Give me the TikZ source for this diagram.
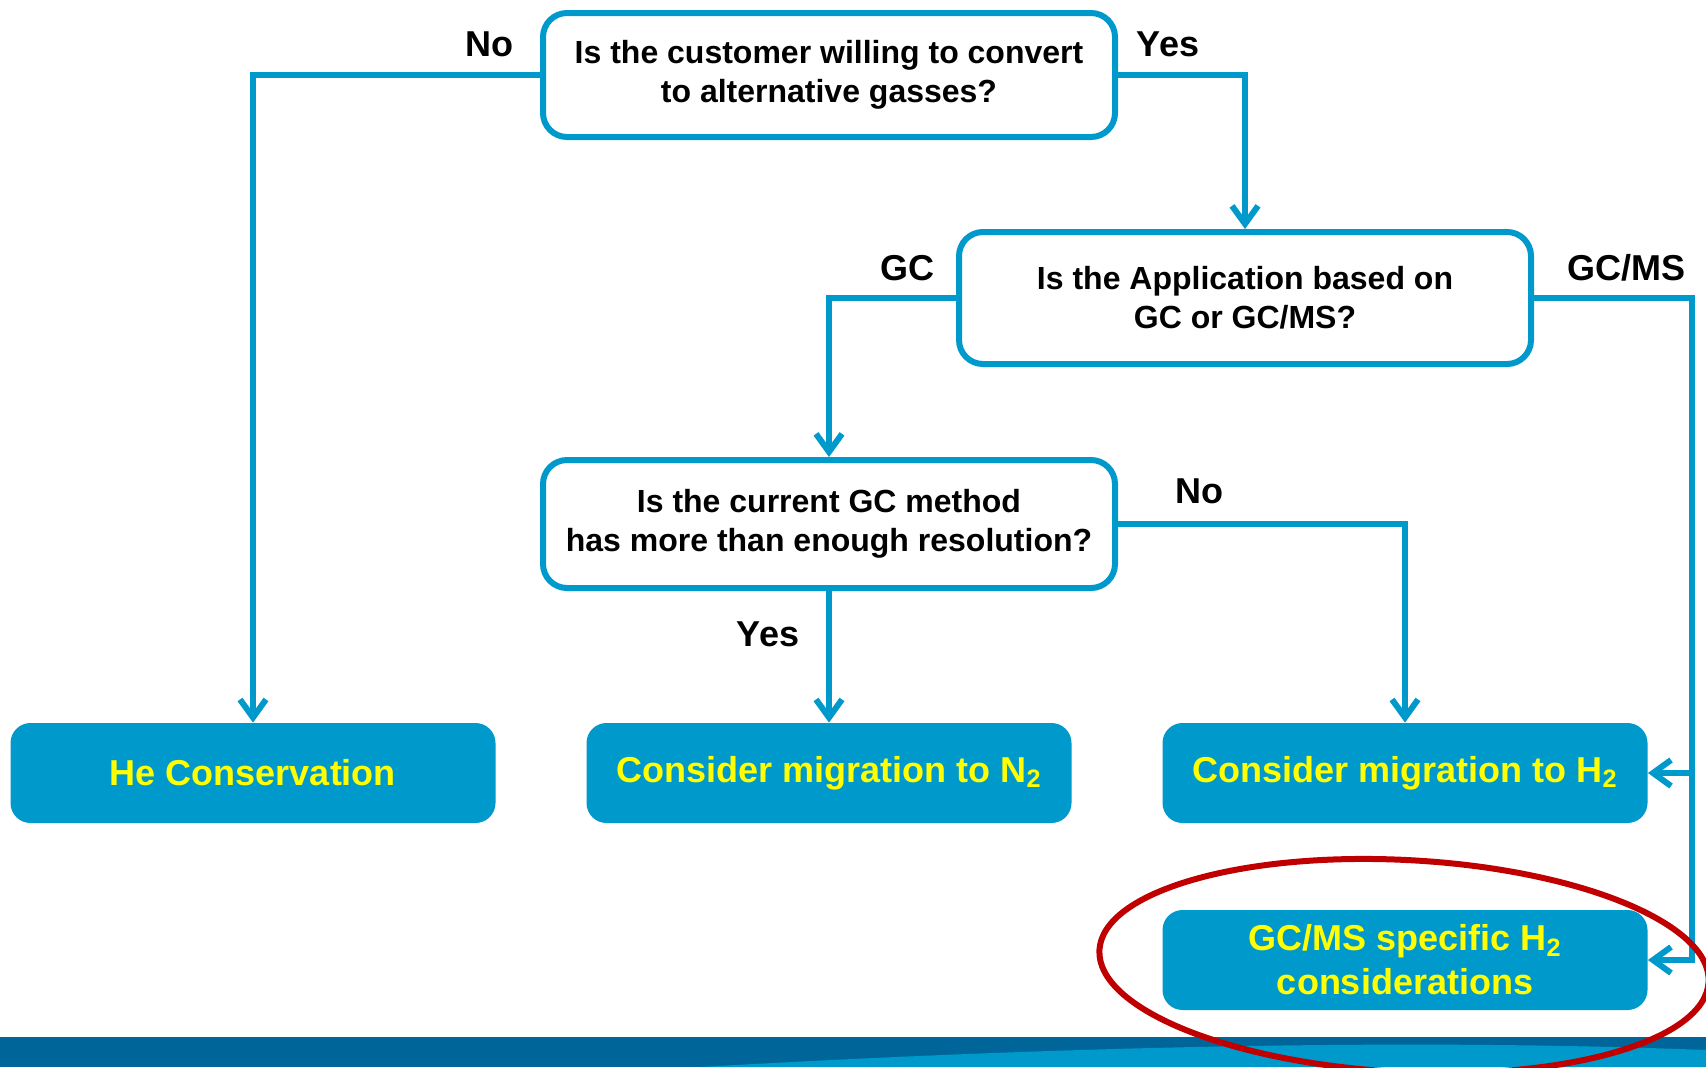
\documentclass[tikz,border=0pt]{standalone}
\usepackage{fontspec}
\setmainfont{Liberation Sans}
\usetikzlibrary{arrows.meta}

\definecolor{flowblue}{RGB}{0,153,204}
\definecolor{banddark}{RGB}{0,102,153}
\definecolor{flowyellow}{RGB}{255,255,0}
\definecolor{markred}{RGB}{192,0,0}

\tikzset{
    question/.style={draw=flowblue, line width=3pt, rounded corners=12pt, fill=white,
        minimum width=286pt, minimum height=62pt, align=center,
        font=\fontsize{16}{19.5}\selectfont\bfseries},
    outcome/.style={fill=flowblue, rounded corners=10pt, minimum width=242.5pt,
        minimum height=50pt, align=center, text=flowyellow,
        font=\fontsize{18}{22}\selectfont\bfseries},
    branch/.style={font=\fontsize{18}{22}\selectfont\bfseries},
    conn/.style={draw=flowblue, line width=3pt,
        -{Straight Barb[length=9pt,width=13pt]}},
}

\begin{document}
\begin{tikzpicture}[x=0.5pt, y=-0.5pt]
    \useasboundingbox (0,0) rectangle (1706,1067);

    % footer band
    \fill[banddark] (0,1037) rectangle (1706,1067);
    \fill[flowblue] (700,1067) .. controls (1050,1047) and (1400,1038) .. (1706,1050) -- (1706,1067) -- cycle;

    % questions
    \node[question] (willing) at (829,75) {Is the customer willing to convert\\to alternative gasses?};
    \node[question, minimum height=66pt] (based) at (1245,298) {Is the Application based on\\GC or GC/MS?};
    \node[question, minimum height=64pt] (resol) at (829,524) {Is the current GC method\\has more than enough resolution?};

    % outcomes
    \node[outcome] (helium) at (253,773) {He Conservation};
    \node[outcome] (nitro) at (829,773) {Consider migration to N\textsubscript{2}};
    \node[outcome] (hydro) at (1405,773) {Consider migration to H\textsubscript{2}};
    \node[outcome] (gcms) at (1405,960) {GC/MS specific H\textsubscript{2}\\considerations};

    % connectors
    \coordinate (rail) at (1692,0);
    \draw[conn] (willing.west) -| (helium.north);
    \draw[conn] (willing.east) -| (based.north);
    \draw[conn] (based.west) -| (resol.north);
    \draw[conn] (resol.east) -| (hydro.north);
    \draw[conn] (resol.south) -- (nitro.north);
    \draw[conn] (based.east) -| (rail |- gcms.east) -- (gcms.east);
    \draw[conn] (rail |- hydro.east) -- (hydro.east);

    % branch labels
    \node[branch] (nowill) at (489,44) {No};
    \node[branch] (yeswill) at (1168,44) {Yes};
    \node[branch] (gclbl) at (907,268) {GC};
    \node[branch] (gcmslbl) at (1626,268) {GC/MS};
    \node[branch] (noresol) at (1199,491) {No};
    \node[branch] (yesresol) at (768,634) {Yes};

    % highlight
    \draw[markred, line width=3pt, rotate around={-3:(1404,966)}] (1404,966) ellipse [x radius=305, y radius=106];
\end{tikzpicture}
\end{document}
